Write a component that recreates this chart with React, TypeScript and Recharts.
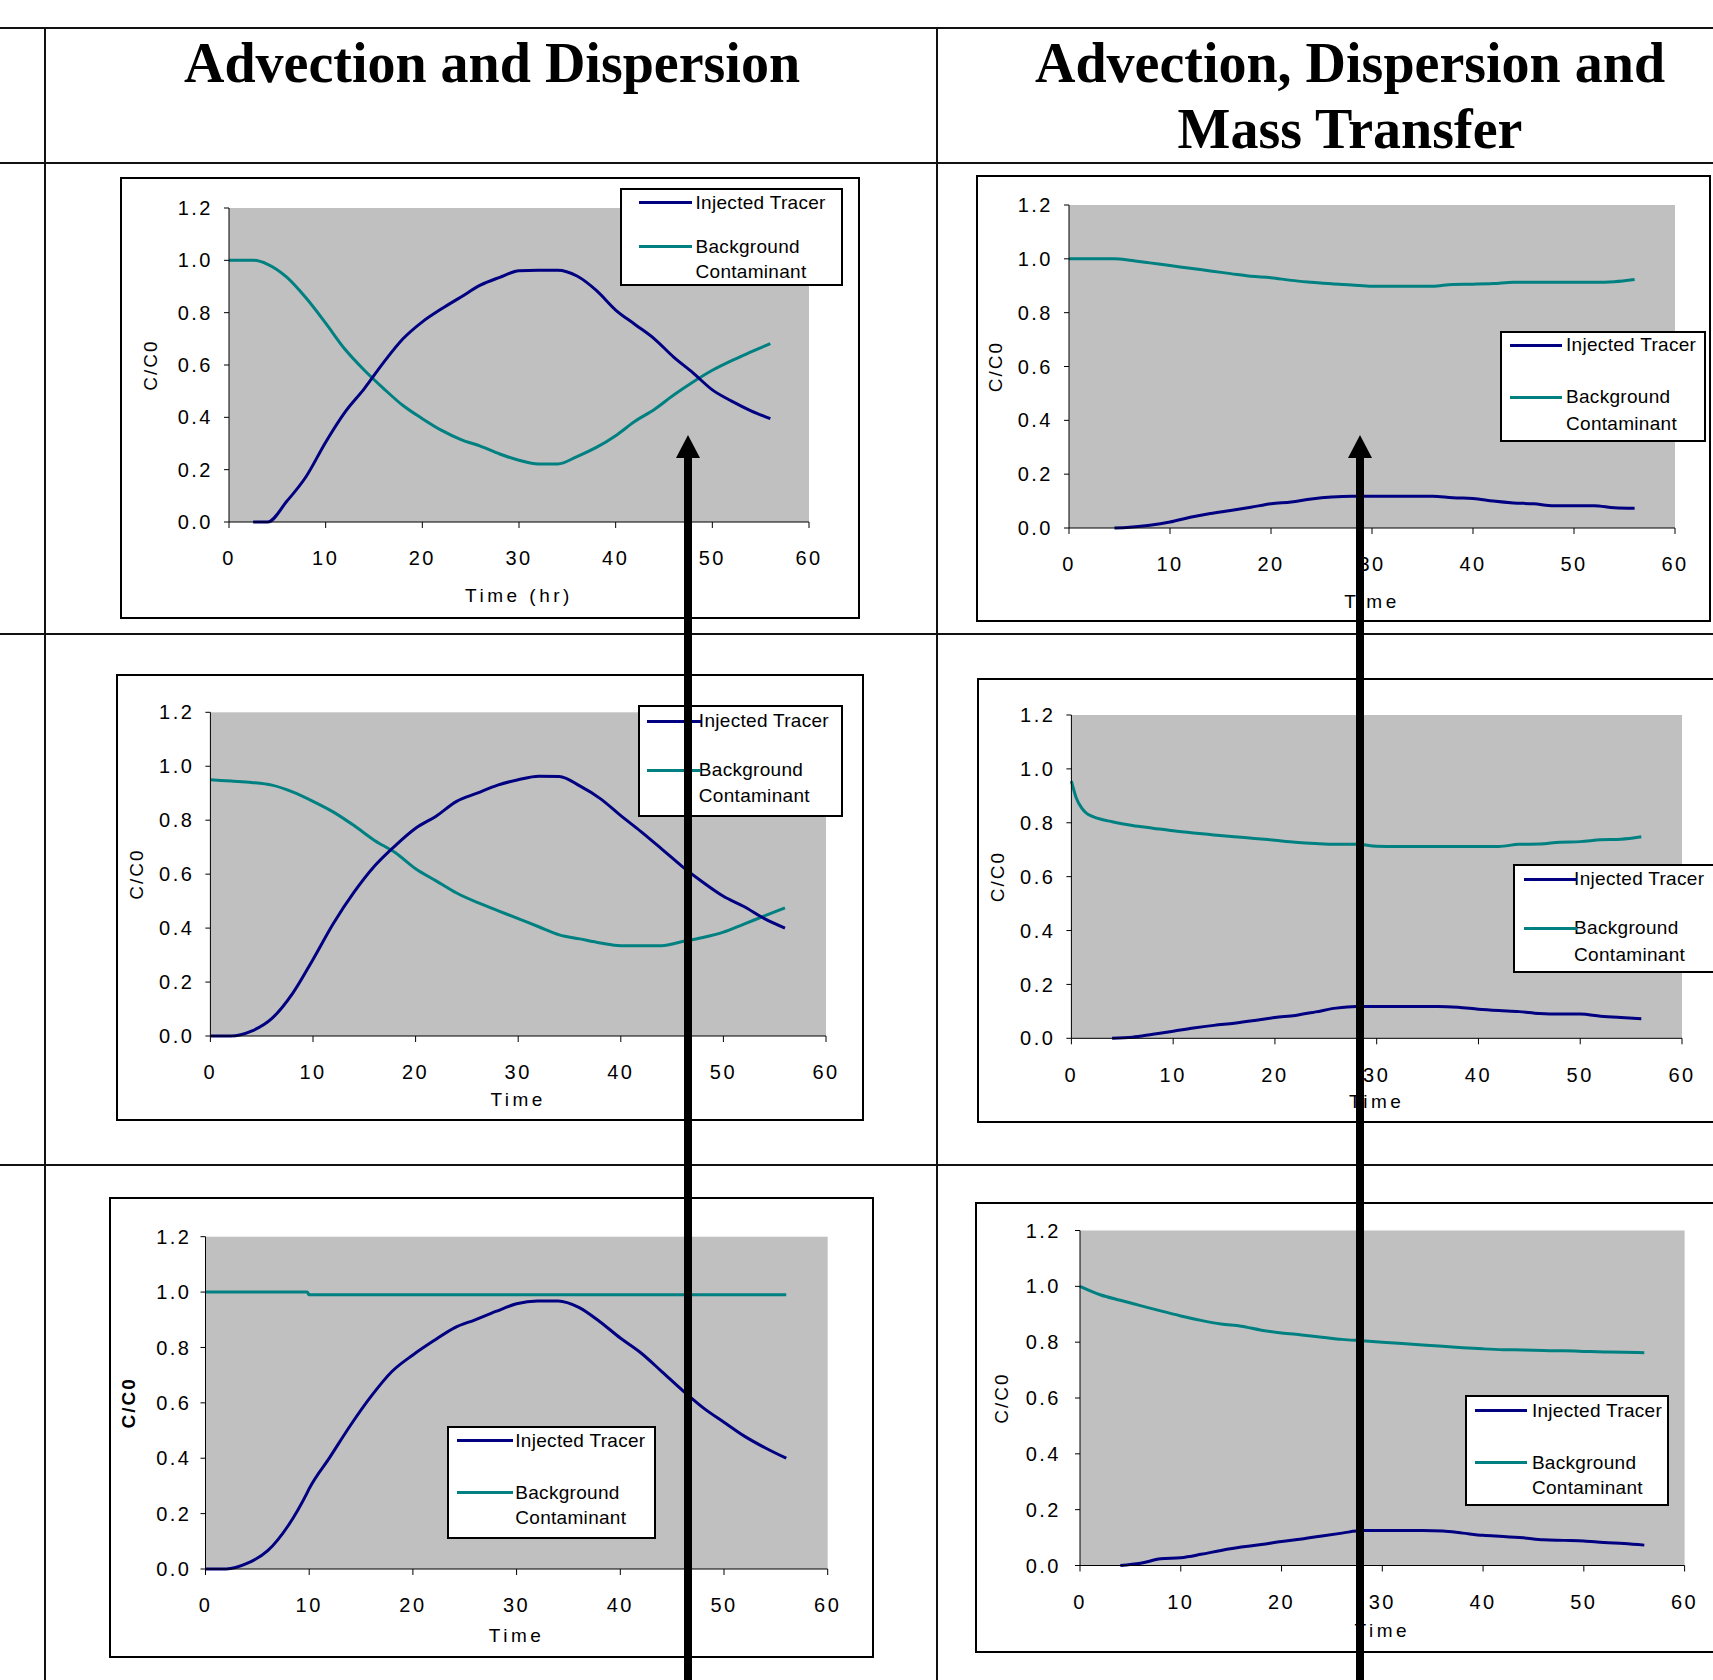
import React from 'react';
import { LineChart, Line, XAxis, YAxis, CartesianGrid, Legend } from 'recharts';

const seriesNames = ['Injected Tracer', 'Background Contaminant'];
const seriesColors = ['#000080', '#008080'];
const columnTitles = [['Advection and Dispersion'], ['Advection, Dispersion and', 'Mass Transfer']];
const xTicks = [0, 10, 20, 30, 40, 50, 60];
const yTicks = [0, 0.2, 0.4, 0.6, 0.8, 1.0, 1.2];

// row 1, advection + dispersion
const hoursA = [0, 2, 2.5, 4, 6, 8, 10, 12, 14, 16, 18, 20, 22, 24, 26, 28, 30, 32, 34, 36, 38, 40, 42, 44, 46, 48, 50, 52, 54, 56];
const tracerA = [null, null, 0, 0, 0.08, 0.175, 0.305, 0.42, 0.51, 0.61, 0.70, 0.765, 0.815, 0.86, 0.905, 0.935, 0.96, 0.962, 0.962, 0.94, 0.885, 0.81, 0.755, 0.70, 0.63, 0.57, 0.505, 0.462, 0.425, 0.395];
const backgroundA = [1.0, 1.0, 1.0, 0.985, 0.935, 0.855, 0.76, 0.66, 0.58, 0.51, 0.445, 0.395, 0.35, 0.315, 0.29, 0.26, 0.236, 0.222, 0.222, 0.25, 0.285, 0.33, 0.385, 0.43, 0.485, 0.535, 0.58, 0.617, 0.65, 0.682];

// row 1, with mass transfer
const hoursB = [0, 2, 4, 4.5, 6, 8, 10, 12, 14, 16, 18, 20, 22, 24, 26, 28, 30, 32, 34, 36, 38, 40, 42, 44, 46, 48, 50, 52, 54, 56];
const tracerB = [null, null, null, 0, 0.003, 0.01, 0.022, 0.04, 0.054, 0.065, 0.077, 0.09, 0.097, 0.108, 0.115, 0.118, 0.118, 0.118, 0.118, 0.118, 0.112, 0.11, 0.10, 0.093, 0.09, 0.083, 0.083, 0.083, 0.075, 0.073];
const backgroundB = [1.0, 1.0, 1.0, 1.0, 0.995, 0.985, 0.975, 0.965, 0.955, 0.945, 0.935, 0.93, 0.92, 0.913, 0.907, 0.903, 0.898, 0.898, 0.898, 0.898, 0.905, 0.906, 0.908, 0.913, 0.913, 0.913, 0.913, 0.913, 0.915, 0.923];

// row 2, advection + dispersion
const hoursC = [0, 2, 4, 6, 8, 10, 12, 14, 16, 18, 20, 22, 24, 26, 28, 30, 32, 34, 36, 38, 40, 42, 44, 46, 48, 50, 52, 54, 56];
const tracerC = [0, 0, 0.018, 0.065, 0.157, 0.284, 0.418, 0.533, 0.63, 0.705, 0.77, 0.815, 0.87, 0.9, 0.93, 0.95, 0.963, 0.962, 0.927, 0.88, 0.817, 0.757, 0.693, 0.628, 0.57, 0.518, 0.48, 0.435, 0.40];
const backgroundC = [0.95, 0.945, 0.94, 0.93, 0.905, 0.87, 0.83, 0.78, 0.725, 0.68, 0.62, 0.575, 0.53, 0.495, 0.465, 0.435, 0.405, 0.375, 0.36, 0.345, 0.335, 0.335, 0.335, 0.35, 0.365, 0.385, 0.415, 0.445, 0.475];

// row 2, with mass transfer
const hoursD = [0, 0.5, 1, 1.5, 2, 3, 4, 6, 8, 10, 12, 14, 16, 18, 20, 22, 24, 26, 28, 30, 32, 34, 36, 38, 40, 42, 44, 46, 48, 50, 52, 54, 56];
const tracerD = [null, null, null, null, null, null, 0, 0.004, 0.015, 0.026, 0.038, 0.048, 0.056, 0.066, 0.077, 0.085, 0.098, 0.112, 0.118, 0.118, 0.118, 0.118, 0.118, 0.115, 0.108, 0.103, 0.099, 0.092, 0.09, 0.09, 0.082, 0.077, 0.073];
const backgroundD = [0.955, 0.89, 0.855, 0.835, 0.825, 0.812, 0.804, 0.79, 0.78, 0.77, 0.762, 0.755, 0.748, 0.742, 0.735, 0.728, 0.723, 0.72, 0.72, 0.713, 0.712, 0.712, 0.712, 0.712, 0.712, 0.712, 0.72, 0.721, 0.728, 0.73, 0.737, 0.739, 0.748];

// row 3, advection + dispersion
const hoursE = [0, 2, 4, 6, 8, 9.8, 10, 12, 14, 16, 18, 20, 22, 24, 26, 28, 30, 32, 34, 36, 38, 40, 42, 44, 46, 48, 50, 52, 54, 56];
const tracerE = [0, 0, 0.02, 0.066, 0.158, 0.275, 0.29, 0.404, 0.52, 0.625, 0.714, 0.773, 0.824, 0.871, 0.9, 0.93, 0.958, 0.968, 0.968, 0.945, 0.894, 0.834, 0.78, 0.713, 0.645, 0.582, 0.53, 0.479, 0.437, 0.40];
const backgroundE = [1.0, 1.0, 1.0, 1.0, 1.0, 1.0, 0.99, 0.99, 0.99, 0.99, 0.99, 0.99, 0.99, 0.99, 0.99, 0.99, 0.99, 0.99, 0.99, 0.99, 0.99, 0.99, 0.99, 0.99, 0.99, 0.99, 0.99, 0.99, 0.99, 0.99];

// row 3, with mass transfer
const hoursF = [0, 2, 4, 6, 8, 10, 12, 14, 16, 18, 20, 22, 24, 26, 28, 30, 32, 34, 36, 38, 40, 42, 44, 46, 48, 50, 52, 54, 56];
const tracerF = [null, null, 0, 0.008, 0.024, 0.028, 0.04, 0.054, 0.066, 0.075, 0.086, 0.095, 0.106, 0.116, 0.125, 0.125, 0.125, 0.125, 0.124, 0.116, 0.108, 0.104, 0.099, 0.092, 0.09, 0.088, 0.082, 0.079, 0.073];
const backgroundF = [1.0, 0.97, 0.95, 0.931, 0.912, 0.894, 0.878, 0.865, 0.857, 0.843, 0.833, 0.826, 0.818, 0.81, 0.805, 0.8, 0.795, 0.79, 0.785, 0.78, 0.776, 0.773, 0.772, 0.77, 0.769, 0.767, 0.765, 0.764, 0.762];

const FONT = '"Liberation Sans", Arial, sans-serif';

type LegendLayout = { x: number; y: number; w: number; h: number; sw0: number; sw1: number; textX: number; rows: number[]; lh: number };
type PanelCfg = {
  times: number[];
  tracer: (number | null)[];
  background: (number | null)[];
  xLabel: string;
  box: [number, number, number, number];
  plot: { l: number; t: number; r: number; b: number };
  yTickMargin: number;
  xLabelOffset: number;
  yLabelOffset: number;
  yBold?: boolean;
  legend: LegendLayout;
};

const panels: PanelCfg[] = [
  {
    times: hoursA, tracer: tracerA, background: backgroundA, xLabel: 'Time (hr)',
    box: [120, 177, 740, 442], plot: { l: 109, t: 31, r: 51, b: 97 },
    yTickMargin: 11, xLabelOffset: 17, yLabelOffset: 30,
    legend: { x: 500, y: 11, w: 223, h: 98, sw0: 19, sw1: 72, textX: 75.5, rows: [14.3, 58.7], lh: 25 },
  },
  {
    times: hoursB, tracer: tracerB, background: backgroundB, xLabel: 'Time',
    box: [976, 175, 735, 447], plot: { l: 93, t: 30, r: 36, b: 94 },
    yTickMargin: 11, xLabelOffset: 14, yLabelOffset: 19,
    legend: { x: 524, y: 155.5, w: 206, h: 111.5, sw0: 10, sw1: 62, textX: 66, rows: [14.5, 67], lh: 26.5 },
  },
  {
    times: hoursC, tracer: tracerC, background: backgroundC, xLabel: 'Time',
    box: [116, 674, 748, 447], plot: { l: 94.4, t: 38.3, r: 38, b: 85 },
    yTickMargin: 11, xLabelOffset: 15, yLabelOffset: 20.7,
    legend: { x: 521.8, y: 31, w: 205.4, h: 111.7, sw0: 9.5, sw1: 63.7, textX: 61, rows: [16.7, 65], lh: 26.7 },
  },
  {
    times: hoursD, tracer: tracerD, background: backgroundD, xLabel: 'Time',
    box: [977, 678, 743, 445], plot: { l: 94.4, t: 37, r: 38, b: 84.7 },
    yTickMargin: 11, xLabelOffset: 15, yLabelOffset: 20,
    legend: { x: 535.6, y: 185.5, w: 210, h: 109.5, sw0: 11.8, sw1: 64, textX: 61.5, rows: [15.8, 64.8], lh: 26.7 },
  },
  {
    times: hoursE, tracer: tracerE, background: backgroundE, xLabel: 'Time',
    box: [109, 1197, 765, 461], plot: { l: 96.5, t: 39.7, r: 46.3, b: 89 },
    yTickMargin: 9, xLabelOffset: 16, yLabelOffset: 19.6, yBold: true,
    legend: { x: 337.7, y: 228.7, w: 209.3, h: 113.3, sw0: 10, sw1: 66, textX: 68.6, rows: [15, 67], lh: 25.6 },
  },
  {
    times: hoursF, tracer: tracerF, background: backgroundF, xLabel: 'Time',
    box: [975, 1202, 745, 451], plot: { l: 105, t: 28.5, r: 35.4, b: 87.5 },
    yTickMargin: 14, xLabelOffset: 16, yLabelOffset: 26.5,
    legend: { x: 490.3, y: 192.8, w: 204, h: 111.5, sw0: 9.7, sw1: 61.8, textX: 66.6, rows: [15.5, 68.2], lh: 25 },
  },
];

function LegendBox({ lg }: { lg: LegendLayout }) {
  return (
    <div style={{ position: 'relative', width: lg.w, height: lg.h, boxSizing: 'border-box', border: '2px solid #000', background: '#fff', fontFamily: FONT, fontSize: 19, letterSpacing: '0.3px', color: '#000' }}>
      {seriesNames.map((name, i) => (
        <React.Fragment key={name}>
          <div style={{ position: 'absolute', left: lg.textX - 2, top: lg.rows[i] - lg.lh / 2 - 2, width: lg.w - lg.textX - 4, lineHeight: `${lg.lh}px`, whiteSpace: 'normal' }}>
            {name}
          </div>
          <div style={{ position: 'absolute', left: lg.sw0 - 2, top: lg.rows[i] - 3.5, width: lg.sw1 - lg.sw0, height: 3, background: seriesColors[i] }} />
        </React.Fragment>
      ))}
    </div>
  );
}

function Panel({ p }: { p: PanelCfg }) {
  const data = p.times.map((t, i) => ({ t, tracer: p.tracer[i], background: p.background[i] }));
  const [left, top, w, h] = p.box;
  return (
    <div style={{ position: 'absolute', left, top, width: w, height: h, background: '#fff' }}>
      <LineChart
        width={w}
        height={h}
        data={data}
        margin={{ top: p.plot.t, right: p.plot.r, bottom: 0, left: 0 }}
        style={{ fontFamily: FONT, letterSpacing: '2.5px' }}
      >
        <CartesianGrid horizontal={false} vertical={false} fill="#C0C0C0" fillOpacity={1} />
        <XAxis
          dataKey="t"
          type="number"
          domain={[0, 60]}
          ticks={xTicks}
          interval={0}
          height={p.plot.b}
          tickSize={6}
          tickMargin={23}
          axisLine={{ stroke: '#000' }}
          tickLine={{ stroke: '#000' }}
          tick={{ fontSize: 20, fill: '#000' }}
          label={{ value: p.xLabel, position: 'insideBottom', offset: p.xLabelOffset, fontSize: 19, fill: '#000', style: { letterSpacing: '3.5px' } }}
        />
        <YAxis
          type="number"
          domain={[0, 1.2]}
          ticks={yTicks}
          interval={0}
          width={p.plot.l}
          tickSize={5}
          tickMargin={p.yTickMargin}
          tickFormatter={(v: number) => v.toFixed(1)}
          axisLine={{ stroke: '#000' }}
          tickLine={{ stroke: '#000' }}
          tick={{ fontSize: 20, fill: '#000' }}
          label={{
            value: 'C/C0',
            angle: -90,
            position: 'insideLeft',
            offset: p.yLabelOffset,
            fontSize: 19,
            fill: '#000',
            style: { textAnchor: 'middle', fontWeight: p.yBold ? 700 : 400, letterSpacing: '2px' },
          }}
        />
        <Line dataKey="background" name={seriesNames[1]} type="monotone" stroke={seriesColors[1]} strokeWidth={3} dot={false} activeDot={false} isAnimationActive={false} />
        <Line dataKey="tracer" name={seriesNames[0]} type="monotone" stroke={seriesColors[0]} strokeWidth={3} dot={false} activeDot={false} isAnimationActive={false} />
        <Legend
          layout="vertical"
          align="center"
          verticalAlign="middle"
          wrapperStyle={{ left: p.legend.x, top: p.legend.y, width: p.legend.w, height: p.legend.h }}
          content={() => <LegendBox lg={p.legend} />}
        />
      </LineChart>
      <div style={{ position: 'absolute', left: 0, top: 0, right: 0, bottom: 0, border: '2px solid #000', boxSizing: 'border-box', pointerEvents: 'none' }} />
    </div>
  );
}

const hLine = (y: number) => (
  <div key={`h${y}`} style={{ position: 'absolute', left: 0, top: y, width: 1713, height: 2, background: '#111' }} />
);
const vLine = (x: number) => (
  <div key={`v${x}`} style={{ position: 'absolute', left: x, top: 27, width: 2, height: 1653, background: '#111' }} />
);

export default function App() {
  const titleCenters = [492, 1350];
  return (
    <div style={{ position: 'absolute', left: 0, top: 0, width: 1713, height: 1680, overflow: 'hidden', background: '#fff' }}>
      {[27, 162, 633, 1164].map(hLine)}
      {[44, 936].map(vLine)}
      {columnTitles.map((lines, i) => (
        <div
          key={i}
          style={{
            position: 'absolute', left: titleCenters[i] - 450, top: 30, width: 900, textAlign: 'center',
            fontFamily: '"Liberation Serif", "Times New Roman", serif', fontWeight: 700, fontSize: 56, lineHeight: '66px', color: '#000',
          }}
        >
          {lines.map((l) => <div key={l}>{l}</div>)}
        </div>
      ))}
      {panels.map((p, i) => <Panel key={i} p={p} />)}
      <svg width={1713} height={1680} style={{ position: 'absolute', left: 0, top: 0, pointerEvents: 'none' }}>
        <polygon points="676,458 700,458 688,435" fill="#000" />
        <rect x={684} y={457} width={8} height={1223} fill="#000" />
        <polygon points="1348,458 1372,458 1360,435" fill="#000" />
        <rect x={1356} y={457} width={8} height={1223} fill="#000" />
      </svg>
    </div>
  );
}
